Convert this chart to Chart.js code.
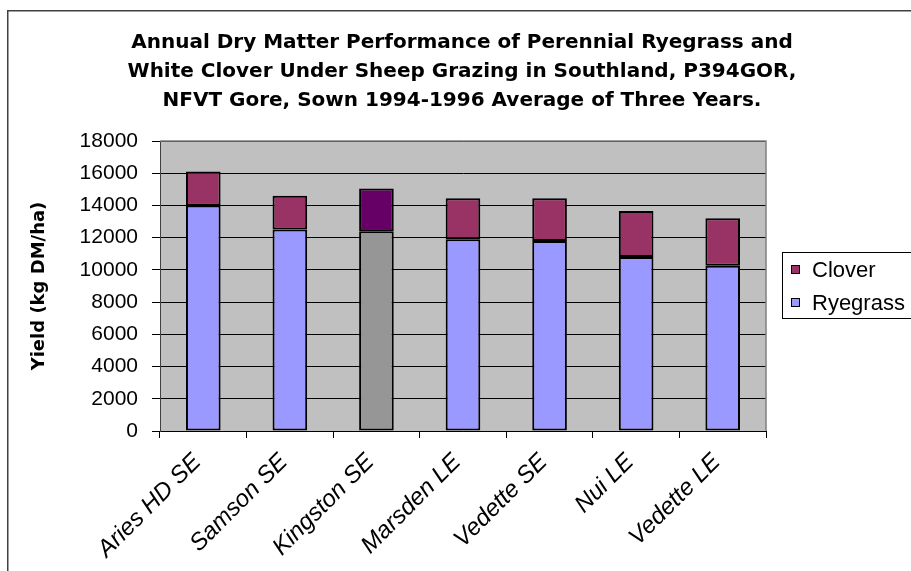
<!DOCTYPE html>
<html>
<head>
<meta charset="utf-8">
<script src="https://cdn.jsdelivr.net/npm/chart.js@4.4.0/dist/chart.umd.min.js"></script>
<style>
  html, body { margin: 0; padding: 0; background: #fff; }
  canvas { display: block; }
</style>
</head>
<body>
<canvas id="myChart" width="911" height="571"></canvas>
<script>
// cultivars on the x axis
var cultivars = ['Aries HD SE', 'Samson SE', 'Kingston SE', 'Marsden LE', 'Vedette SE', 'Nui LE', 'Vedette LE'];
// yield, kg DM/ha
var ryegrass = [14000, 12500, 12400, 11900, 11800, 10800, 10250];
var clover = [2100, 2100, 2650, 2550, 2650, 2850, 2950];
var yTicks = [0, 2000, 4000, 6000, 8000, 10000, 12000, 14000, 16000, 18000];
var titleLines = [
  'Annual Dry Matter Performance of Perennial Ryegrass and',
  'White Clover Under Sheep Grazing in Southland, P394GOR,',
  'NFVT Gore, Sown 1994-1996 Average of Three Years.'
];

var sans = '"Liberation Sans", Arial, sans-serif';
var boldFace = '"DejaVu Sans", sans-serif';

// Kingston is shaded differently in the original
var ryeColors = cultivars.map(function (c) { return c === 'Kingston SE' ? '#969696' : '#9999FF'; });
var cloverColors = cultivars.map(function (c) { return c === 'Kingston SE' ? '#660066' : '#993366'; });

// white page, outer frame, grey plot area
var plotBg = {
  id: 'plotBg',
  beforeDraw: function (chart) {
    var ctx = chart.ctx, a = chart.chartArea;
    ctx.save();
    ctx.fillStyle = '#fff';
    ctx.fillRect(0, 0, chart.width, chart.height);
    ctx.strokeStyle = '#404040';
    ctx.lineWidth = 1.5;
    ctx.beginPath();
    ctx.moveTo(7.75, chart.height);
    ctx.lineTo(7.75, 10.75);
    ctx.lineTo(chart.width, 10.75);
    ctx.stroke();
    ctx.fillStyle = '#C0C0C0';
    ctx.fillRect(a.left, a.top, a.right - a.left, a.bottom - a.top);
    ctx.restore();
  },
  beforeDatasetsDraw: function (chart) {
    var ctx = chart.ctx, a = chart.chartArea;
    ctx.save();
    ctx.strokeStyle = '#808080';
    ctx.lineWidth = 1.5;
    ctx.beginPath();
    ctx.moveTo(a.left, a.top);
    ctx.lineTo(a.right, a.top);
    ctx.lineTo(a.right, a.bottom);
    ctx.stroke();
    ctx.restore();
  }
};

// boxed legend, clover on top
var boxLegend = {
  id: 'boxLegend',
  afterDraw: function (chart) {
    var ctx = chart.ctx;
    var items = chart.data.datasets.slice().reverse();
    ctx.save();
    ctx.fillStyle = '#fff';
    ctx.fillRect(782, 252, 140, 66);
    ctx.strokeStyle = '#000';
    ctx.lineWidth = 1;
    ctx.strokeRect(782.5, 252.5, 140, 66);
    ctx.font = '22px ' + sans;
    ctx.textBaseline = 'middle';
    items.forEach(function (ds, i) {
      var y = 269.5 + i * 33;
      ctx.fillStyle = ds.backgroundColor[0];
      ctx.fillRect(791.5, y - 4, 8, 8);
      ctx.strokeRect(791.5, y - 4, 8, 8);
      ctx.fillStyle = '#000';
      ctx.fillText(ds.label, 812, y + 1);
    });
    ctx.restore();
  }
};

var ctx = document.getElementById('myChart');
var myChart = new Chart(ctx, {
  type: 'bar',
  data: {
    labels: cultivars,
    datasets: [{
      label: 'Ryegrass',
      data: ryegrass,
      backgroundColor: ryeColors,
      borderColor: '#000',
      borderWidth: 2,
      borderSkipped: false,
      barPercentage: 0.4,
      categoryPercentage: 1
    }, {
      label: 'Clover',
      data: clover,
      backgroundColor: cloverColors,
      borderColor: '#000',
      borderWidth: 2,
      borderSkipped: false,
      barPercentage: 0.4,
      categoryPercentage: 1
    }]
  },
  options: {
    responsive: false,
    animation: false,
    devicePixelRatio: 1,
    layout: { padding: { left: 13, right: 0, top: 0, bottom: 0 } },
    plugins: {
      legend: { display: false },
      tooltip: { enabled: false },
      title: {
        display: true,
        text: titleLines,
        color: '#000',
        font: { family: boldFace, weight: 'bold', size: 20, lineHeight: 1.45 },
        padding: { top: 28, bottom: 26 }
      }
    },
    scales: {
      x: {
        stacked: true,
        offset: true,
        grid: { offset: true, drawOnChartArea: false, drawTicks: true, tickLength: 7, tickColor: '#000' },
        border: { color: '#000', width: 1 },
        ticks: {
          color: '#000',
          font: { family: sans, size: 24, style: 'italic' },
          minRotation: 45,
          maxRotation: 45,
          autoSkip: false,
          labelOffset: -6,
          padding: 10
        },
        afterFit: function (s) { s.height = 140; }
      },
      y: {
        stacked: true,
        min: 0,
        max: 18000,
        afterBuildTicks: function (s) {
          s.ticks = yTicks.map(function (v) { return { value: v }; });
        },
        grid: { color: '#000', lineWidth: 1, tickLength: 8, tickColor: '#000' },
        border: { color: '#404040', width: 1 },
        ticks: {
          color: '#000',
          font: { family: sans, size: 21 },
          padding: 14,
          callback: function (v) { return String(v); }
        },
        title: {
          display: true,
          text: 'Yield (kg DM/ha)',
          color: '#000',
          font: { family: boldFace, weight: 'bold', size: 18 },
          padding: { top: 16, bottom: 0 }
        },
        afterFit: function (s) { s.width = 147; }
      },
      y2: {
        position: 'right',
        display: true,
        grid: { display: false, drawTicks: false },
        border: { display: false },
        ticks: { display: false },
        afterFit: function (s) { s.width = 145; }
      }
    }
  },
  plugins: [plotBg, boxLegend]
});
</script>
</body>
</html>
